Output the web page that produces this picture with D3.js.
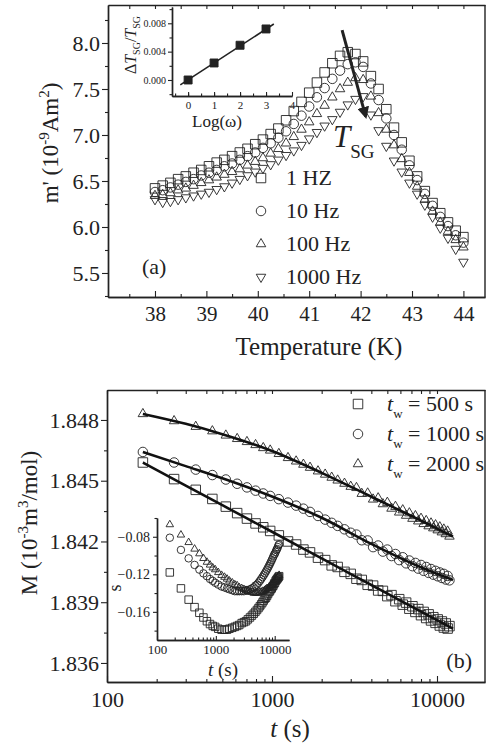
<!DOCTYPE html>
<html>
<head>
<meta charset="utf-8">
<script src="https://cdn.jsdelivr.net/npm/d3@7"></script>
<style>
  body { margin: 0; background: #fff; }
  text { font-family: "Liberation Serif", "Times New Roman", serif; fill: #222; }
</style>
</head>
<body>
<script>
// ---------- panel (a) : m' vs temperature ----------
const tempK = [38.00,38.15,38.30,38.45,38.60,38.75,38.90,39.05,39.20,39.35,39.50,39.65,39.80,39.95,40.10,40.25,40.40,40.55,40.70,40.85,
  41.00,41.15,41.30,41.45,41.60,41.75,41.90,42.05,42.20,42.35,42.50,42.65,42.80,42.95,43.10,43.25,43.40,43.55,43.70,43.85,44.00];
const m1Hz = [6.42,6.45,6.48,6.52,6.55,6.59,6.62,6.66,6.70,6.73,6.77,6.81,6.85,6.90,6.95,7.01,7.07,7.16,7.26,7.36,
  7.46,7.57,7.68,7.78,7.86,7.90,7.88,7.80,7.64,7.50,7.28,7.08,6.92,6.72,6.55,6.39,6.26,6.15,6.05,5.96,5.89];
const m10Hz = [6.38,6.40,6.43,6.46,6.49,6.52,6.56,6.59,6.62,6.66,6.69,6.73,6.77,6.81,6.86,6.91,6.97,7.04,7.12,7.21,
  7.31,7.41,7.51,7.61,7.70,7.77,7.79,7.74,7.56,7.38,7.18,7.00,6.84,6.67,6.51,6.36,6.23,6.11,6.01,5.91,5.83];
const m100Hz = [6.34,6.35,6.37,6.40,6.42,6.45,6.48,6.51,6.54,6.57,6.60,6.63,6.67,6.71,6.75,6.80,6.85,6.91,6.98,7.06,
  7.14,7.23,7.32,7.41,7.50,7.57,7.62,7.60,7.42,7.24,7.06,6.89,6.74,6.59,6.44,6.30,6.17,6.05,5.95,5.86,5.78];
const m1000Hz = [6.30,6.27,6.28,6.30,6.32,6.34,6.36,6.38,6.41,6.44,6.48,6.52,6.56,6.60,6.64,6.68,6.73,6.78,6.83,6.89,
  6.96,7.03,7.10,7.17,7.25,7.33,7.39,7.42,7.22,7.05,6.88,6.72,6.60,6.48,6.36,6.24,6.11,5.99,5.88,5.76,5.62];
const freqNames = ["1 HZ", "10 Hz", "100 Hz", "1000 Hz"];
const tempTicks = [38, 39, 40, 41, 42, 43, 44];
const mTicks = [5.5, 6.0, 6.5, 7.0, 7.5, 8.0];

// inset (a)
const logOmega = [0, 1, 2, 3];
const dTsg = [0.0000, 0.0024, 0.0049, 0.0072];
const fitLogOmega = [-0.3, 3.3];
const fitDTsg = [-0.0007, 0.0079];
const logTicks = [0, 1, 2, 3, 4];
const dTTicks = [0.000, 0.004, 0.008];

// arrow marking T_SG (start / end, data units)
const arrowT = [41.64, 42.10];
const arrowM = [8.14, 7.20];

// ---------- panel (b) : M vs t ----------
const timeS = [165,255,345,435,525,615,705,795,885,975,1100,1250,1400,1550,1700,1900,2100,2300,2500,2750,
  3000,3250,3500,3800,4100,4400,4700,5000,5300,5600,5900,6200,6500,6800,7100,7400,7700,8000,8300,8600,
  8900,9200,9500,9800,10100,10400,10700,11000,11300,11600,11900];
const M500 = [1.84590,1.84508,1.84455,1.84410,1.84372,1.84340,1.84313,1.84289,1.84270,1.84252,1.84230,1.84200,1.84185,1.84160,1.84146,1.84120,1.84108,1.84082,1.84074,1.84050,
  1.84040,1.84016,1.84010,1.83986,1.83982,1.83958,1.83956,1.83930,1.83935,1.83905,1.83915,1.83888,1.83898,1.83868,1.83880,1.83852,1.83866,1.83836,1.83852,1.83822,
  1.83840,1.83810,1.83826,1.83798,1.83815,1.83785,1.83805,1.83775,1.83795,1.83770,1.83782];
const M1000 = [1.84642,1.84590,1.84555,1.84528,1.84506,1.84485,1.84467,1.84451,1.84437,1.84425,1.84409,1.84392,1.84377,1.84362,1.84346,1.84326,1.84308,1.84292,1.84277,1.84260,
  1.84243,1.84234,1.84206,1.84205,1.84172,1.84180,1.84150,1.84160,1.84128,1.84138,1.84108,1.84122,1.84092,1.84106,1.84078,1.84094,1.84066,1.84084,1.84055,1.84074,
  1.84045,1.84064,1.84036,1.84055,1.84028,1.84047,1.84020,1.84040,1.84012,1.84030,1.84008];
const M2000 = [1.84830,1.84795,1.84767,1.84745,1.84724,1.84707,1.84692,1.84677,1.84662,1.84650,1.84633,1.84613,1.84596,1.84580,1.84565,1.84547,1.84531,1.84516,1.84502,1.84486,
  1.84471,1.84465,1.84436,1.84438,1.84408,1.84414,1.84385,1.84392,1.84363,1.84372,1.84344,1.84355,1.84328,1.84340,1.84313,1.84326,1.84300,1.84313,1.84287,1.84302,
  1.84276,1.84290,1.84266,1.84281,1.84256,1.84271,1.84246,1.84260,1.84237,1.84250,1.84225];
const fitTime = [165, 300, 500, 1000, 2000, 4000, 8000, 12500];
const fit500 = [1.84590, 1.84476, 1.84379, 1.84248, 1.84116, 1.83985, 1.83854, 1.83769];
const fit1000 = [1.84642, 1.84572, 1.84512, 1.84422, 1.84317, 1.84188, 1.84072, 1.84010];
const fit2000 = [1.84830, 1.84781, 1.84730, 1.84647, 1.84539, 1.84421, 1.84303, 1.84224];
const twNames = ["500 s", "1000 s", "2000 s"];
const MTicks = [1.836, 1.839, 1.842, 1.845, 1.848];
const timeTicks = [100, 1000, 10000];

// inset (b) : s vs t
const s500 = [-0.118,-0.135,-0.147,-0.155,-0.161,-0.166,-0.170,-0.173,-0.175,-0.176,-0.178,-0.179,-0.179,-0.179,-0.178,-0.177,-0.176,-0.175,-0.174,-0.172,
  -0.171,-0.170,-0.168,-0.166,-0.164,-0.162,-0.160,-0.158,-0.156,-0.154,-0.152,-0.150,-0.148,-0.146,-0.145,-0.143,-0.141,-0.139,-0.138,-0.136,
  -0.135,-0.133,-0.132,-0.130,-0.129,-0.127,-0.126,-0.125,-0.124,-0.123,-0.122];
const s1000 = [-0.081,-0.094,-0.103,-0.110,-0.115,-0.119,-0.122,-0.125,-0.127,-0.129,-0.131,-0.133,-0.134,-0.135,-0.136,-0.137,-0.138,-0.138,-0.138,-0.138,
  -0.138,-0.137,-0.137,-0.136,-0.135,-0.134,-0.132,-0.131,-0.129,-0.127,-0.125,-0.123,-0.121,-0.119,-0.117,-0.115,-0.113,-0.111,-0.109,-0.107,
  -0.105,-0.103,-0.101,-0.099,-0.098,-0.096,-0.094,-0.093,-0.091,-0.089,-0.088];
const s2000 = [-0.067,-0.078,-0.086,-0.093,-0.098,-0.103,-0.107,-0.110,-0.113,-0.115,-0.118,-0.121,-0.123,-0.125,-0.127,-0.129,-0.131,-0.132,-0.134,-0.135,
  -0.136,-0.137,-0.138,-0.139,-0.139,-0.140,-0.140,-0.140,-0.140,-0.139,-0.139,-0.138,-0.138,-0.137,-0.136,-0.135,-0.135,-0.134,-0.133,-0.132,
  -0.131,-0.130,-0.129,-0.128,-0.127,-0.126,-0.125,-0.124,-0.123,-0.122,-0.121];
const sTicks = [-0.16, -0.12, -0.08];
const insetTimeTicks = [100, 1000, 10000];

const ink = "#222";
const svg = d3.select("body").append("svg").attr("width", 487).attr("height", 745);

// marker shapes: square, circle, up-triangle, down-triangle
const shapes = [
  {type: d3.symbolSquare, rot: 0},
  {type: d3.symbolCircle, rot: 0},
  {type: d3.symbolTriangle, rot: 0},
  {type: d3.symbolTriangle, rot: 180}
];
function sizeFor(type, w) {
  // approximate symbol area for a given visual width
  if (type === d3.symbolSquare) return w * w;
  if (type === d3.symbolCircle) return Math.PI * w * w / 4;
  return w * w * 0.433;
}
function markers(g, xs, ys, sx, sy, shape, w, filled) {
  const sym = d3.symbol().type(shape.type).size(sizeFor(shape.type, w));
  g.append("g").selectAll("path").data(xs.map((x, i) => [x, ys[i]])).join("path")
    .attr("d", sym)
    .attr("transform", d => `translate(${sx(d[0])},${sy(d[1])}) rotate(${shape.rot})`)
    .attr("fill", filled ? ink : "none")
    .attr("stroke", ink)
    .attr("stroke-width", 0.9);
}
function styleAxis(g, fs) {
  g.select(".domain").attr("stroke", ink).attr("stroke-width", 1.4);
  g.selectAll(".tick line").attr("stroke", ink).attr("stroke-width", 1.1);
  g.selectAll(".tick text").attr("fill", ink).style("font-size", fs + "px")
    .style("font-family", '"Liberation Serif","Times New Roman",serif');
}

// ================= panel (a) =================
const xA = d3.scaleLinear().domain([37.086, 44.42]).range([108, 485]);
const yA = d3.scaleLinear().domain([5.239, 8.413]).range([297, 5]);
const gA = svg.append("g");

const tMinor = d3.range(37.5, 44.5, 1);
const mMinor = d3.range(5.25, 8.4, 0.5);

gA.append("g").attr("transform", "translate(0,297)")
  .call(d3.axisBottom(xA).tickValues(tMinor).tickSize(-3).tickSizeOuter(0).tickFormat(""))
  .call(g => styleAxis(g, 20));
gA.append("g").attr("transform", "translate(0,297)")
  .call(d3.axisBottom(xA).tickValues(tempTicks).tickSize(-6).tickSizeOuter(0).tickPadding(9).tickFormat(d3.format("d")))
  .call(g => styleAxis(g, 21));
gA.append("g").attr("transform", "translate(0,5)")
  .call(d3.axisTop(xA).tickValues(tempTicks.concat(tMinor)).tickSize(-4).tickSizeOuter(0).tickFormat(""))
  .call(g => styleAxis(g, 20));
gA.append("g").attr("transform", "translate(108,0)")
  .call(d3.axisLeft(yA).tickValues(mMinor).tickSize(3).tickSizeOuter(0).tickFormat(""))
  .call(g => styleAxis(g, 20));
gA.append("g").attr("transform", "translate(108,0)")
  .call(d3.axisLeft(yA).tickValues(mTicks).tickSize(6).tickSizeOuter(0).tickPadding(2).tickFormat(d3.format(".1f")))
  .call(g => styleAxis(g, 22));
gA.append("line").attr("x1", 485).attr("x2", 485).attr("y1", 5).attr("y2", 297)
  .attr("stroke", ink).attr("stroke-width", 1.4);

const seriesA = [m1Hz, m10Hz, m100Hz, m1000Hz];
seriesA.forEach((ys, i) => markers(gA, tempK, ys, xA, yA, shapes[i], 9.5, false));

// arrow
const defs = svg.append("defs");
defs.append("marker").attr("id", "head").attr("viewBox", "0 0 10 10")
  .attr("refX", 8).attr("refY", 5).attr("markerWidth", 4).attr("markerHeight", 4)
  .attr("orient", "auto")
  .append("path").attr("d", "M0,0 L10,5 L0,10 Z").attr("fill", ink);
gA.append("line")
  .attr("x1", xA(arrowT[0])).attr("y1", yA(arrowM[0]))
  .attr("x2", xA(arrowT[1])).attr("y2", yA(arrowM[1]))
  .attr("stroke", ink).attr("stroke-width", 3).attr("marker-end", "url(#head)");

// T_SG label
const tsg = gA.append("text").attr("x", 333).attr("y", 147).style("font-size", "31px");
tsg.append("tspan").style("font-style", "italic").text("T");
tsg.append("tspan").attr("dy", 11).style("font-size", "19px").text("SG");

// legend (a)
freqNames.forEach((name, i) => {
  const ly = 178 + i * 33;
  const sym = d3.symbol().type(shapes[i].type).size(sizeFor(shapes[i].type, 9.5));
  gA.append("path").attr("d", sym)
    .attr("transform", `translate(261,${ly}) rotate(${shapes[i].rot})`)
    .attr("fill", "none").attr("stroke", ink).attr("stroke-width", 0.9);
  gA.append("text").attr("x", 286).attr("y", ly + 7).style("font-size", "22px").text(name);
});
gA.append("text").attr("x", 142).attr("y", 274).style("font-size", "22px").text("(a)");

// axis titles (a)
gA.append("text").attr("x", 319).attr("y", 355).attr("text-anchor", "middle")
  .style("font-size", "25px").text("Temperature (K)");
const yTitleA = gA.append("text").attr("transform", "translate(58,143) rotate(-90)")
  .attr("text-anchor", "middle").style("font-size", "23px");
yTitleA.append("tspan").text("m' (10");
yTitleA.append("tspan").attr("dy", -9).style("font-size", "15px").text("-9");
yTitleA.append("tspan").attr("dy", 9).text("Am");
yTitleA.append("tspan").attr("dy", -9).style("font-size", "15px").text("2");
yTitleA.append("tspan").attr("dy", 9).text(")");

// ---- inset (a)
const xIa = d3.scaleLinear().domain([-0.62, 4]).range([172, 292]);
const yIa = d3.scaleLinear().domain([-0.00226, 0.0103]).range([96, 7]);
const gIa = svg.append("g");
gIa.append("g").attr("transform", "translate(0,96)")
  .call(d3.axisBottom(xIa).tickValues(d3.range(-0.5, 4, 0.5)).tickSize(-2.5).tickSizeOuter(0).tickFormat(""))
  .call(g => styleAxis(g, 11));
gIa.append("g").attr("transform", "translate(0,96)")
  .call(d3.axisBottom(xIa).tickValues(logTicks).tickSize(-4).tickSizeOuter(0).tickPadding(5).tickFormat(d3.format("d")))
  .call(g => styleAxis(g, 11));
gIa.append("g").attr("transform", "translate(172,0)")
  .call(d3.axisLeft(yIa).tickValues([-0.002, 0.002, 0.006, 0.010]).tickSize(2.5).tickSizeOuter(0).tickFormat(""))
  .call(g => styleAxis(g, 10));
gIa.append("g").attr("transform", "translate(172,0)")
  .call(d3.axisLeft(yIa).tickValues(dTTicks).tickSize(4).tickSizeOuter(0).tickPadding(2).tickFormat(d3.format(".3f")))
  .call(g => styleAxis(g, 10));
gIa.append("line")
  .attr("x1", xIa(fitLogOmega[0])).attr("y1", yIa(fitDTsg[0]))
  .attr("x2", xIa(fitLogOmega[1])).attr("y2", yIa(fitDTsg[1]))
  .attr("stroke", ink).attr("stroke-width", 1.6);
markers(gIa, logOmega, dTsg, xIa, yIa, shapes[0], 8, true);
gIa.append("text").attr("x", 217).attr("y", 127).attr("text-anchor", "middle")
  .style("font-size", "17px").text("Log(\u03c9)");
const yTitleIa = gIa.append("text").attr("transform", "translate(136,45) rotate(-90)")
  .attr("text-anchor", "middle").style("font-size", "16px");
yTitleIa.append("tspan").text("\u0394");
yTitleIa.append("tspan").style("font-style", "italic").text("T");
yTitleIa.append("tspan").attr("dy", 4).style("font-size", "10px").text("SG");
yTitleIa.append("tspan").attr("dy", -4).text("/");
yTitleIa.append("tspan").style("font-style", "italic").text("T");
yTitleIa.append("tspan").attr("dy", 4).style("font-size", "10px").text("SG");

// ================= panel (b) =================
const xB = d3.scaleLog().domain([100, 19540]).range([107, 485]);
const yB = d3.scaleLinear().domain([1.83506, 1.84948]).range([682, 390]);
const gB = svg.append("g");

const tMinorB = [200,300,400,500,600,700,800,900,2000,3000,4000,5000,6000,7000,8000,9000];
const MMinorB = [1.8375, 1.8405, 1.8435, 1.8465];

gB.append("g").attr("transform", "translate(0,682)")
  .call(d3.axisBottom(xB).tickValues(tMinorB).tickSize(-3).tickSizeOuter(0).tickFormat(""))
  .call(g => styleAxis(g, 20));
gB.append("g").attr("transform", "translate(0,682)")
  .call(d3.axisBottom(xB).tickValues(timeTicks).tickSize(-6).tickSizeOuter(0).tickPadding(9).tickFormat(d3.format("d")))
  .call(g => styleAxis(g, 22));
gB.append("g").attr("transform", "translate(0,390)")
  .call(d3.axisTop(xB).tickValues(timeTicks.concat(tMinorB)).tickSize(-4).tickSizeOuter(0).tickFormat(""))
  .call(g => styleAxis(g, 20));
gB.append("g").attr("transform", "translate(107,0)")
  .call(d3.axisLeft(yB).tickValues(MMinorB).tickSize(3).tickSizeOuter(0).tickFormat(""))
  .call(g => styleAxis(g, 20));
gB.append("g").attr("transform", "translate(107,0)")
  .call(d3.axisLeft(yB).tickValues(MTicks).tickSize(6).tickSizeOuter(0).tickPadding(2).tickFormat(d3.format(".3f")))
  .call(g => styleAxis(g, 22));
gB.append("line").attr("x1", 485).attr("x2", 485).attr("y1", 390).attr("y2", 682)
  .attr("stroke", ink).attr("stroke-width", 1.4);

const seriesB = [M500, M1000, M2000];
seriesB.forEach((ys, i) => markers(gB, timeS, ys, xB, yB, shapes[i], 9.5, false));
const fitLine = d3.line().x(d => xB(d[0])).y(d => yB(d[1])).curve(d3.curveMonotoneX);
[fit500, fit1000, fit2000].forEach(f => {
  gB.append("path").datum(fitTime.map((t, i) => [t, f[i]]))
    .attr("d", fitLine).attr("fill", "none").attr("stroke", "#111").attr("stroke-width", 2.6);
});

// legend (b)
twNames.forEach((name, i) => {
  const ly = 404 + i * 30;
  const sym = d3.symbol().type(shapes[i].type).size(sizeFor(shapes[i].type, 9.5));
  gB.append("path").attr("d", sym).attr("transform", `translate(358,${ly})`)
    .attr("fill", "none").attr("stroke", ink).attr("stroke-width", 0.9);
  const t = gB.append("text").attr("x", 387).attr("y", ly + 7).style("font-size", "22px");
  t.append("tspan").style("font-style", "italic").text("t");
  t.append("tspan").attr("dy", 7).style("font-size", "13px").text("w");
  t.append("tspan").attr("dy", -7).text(" = " + name);
});
gB.append("text").attr("x", 472).attr("y", 668).attr("text-anchor", "end")
  .style("font-size", "22px").text("(b)");

// axis titles (b)
const xTitleB = gB.append("text").attr("x", 290).attr("y", 737).attr("text-anchor", "middle")
  .style("font-size", "25px");
xTitleB.append("tspan").style("font-style", "italic").text("t");
xTitleB.append("tspan").text(" (s)");
const yTitleB = gB.append("text").attr("transform", "translate(37,523) rotate(-90)")
  .attr("text-anchor", "middle").style("font-size", "23px");
yTitleB.append("tspan").text("M (10");
yTitleB.append("tspan").attr("dy", -9).style("font-size", "15px").text("-3");
yTitleB.append("tspan").attr("dy", 9).text("m");
yTitleB.append("tspan").attr("dy", -9).style("font-size", "15px").text("3");
yTitleB.append("tspan").attr("dy", 9).text("/mol)");

// ---- inset (b)
const xIb = d3.scaleLog().domain([100, 17500]).range([157, 289]);
const yIb = d3.scaleLinear().domain([-0.19, -0.06]).range([640, 518]);
const gIb = svg.append("g");
const insetMinor = [200,300,400,500,600,700,800,900,2000,3000,4000,5000,6000,7000,8000,9000];
gIb.append("g").attr("transform", "translate(0,640)")
  .call(d3.axisBottom(xIb).tickValues(insetMinor).tickSize(-2.5).tickSizeOuter(0).tickFormat(""))
  .call(g => styleAxis(g, 12));
gIb.append("g").attr("transform", "translate(0,640)")
  .call(d3.axisBottom(xIb).tickValues(insetTimeTicks).tickSize(-4).tickSizeOuter(0).tickPadding(5).tickFormat(d3.format("d")))
  .call(g => styleAxis(g, 13));
gIb.append("g").attr("transform", "translate(157,0)")
  .call(d3.axisLeft(yIb).tickValues([-0.18, -0.14, -0.10, -0.06]).tickSize(2.5).tickSizeOuter(0).tickFormat(""))
  .call(g => styleAxis(g, 12));
gIb.append("g").attr("transform", "translate(157,0)")
  .call(d3.axisLeft(yIb).tickValues(sTicks).tickSize(4).tickSizeOuter(0).tickPadding(3).tickFormat(d3.format(".2f")))
  .call(g => styleAxis(g, 14));
[s500, s1000, s2000].forEach((ys, i) => markers(gIb, timeS, ys, xIb, yIb, shapes[i], 7.5, false));
const xTitleIb = gIb.append("text").attr("x", 223).attr("y", 676).attr("text-anchor", "middle")
  .style("font-size", "19px");
xTitleIb.append("tspan").style("font-style", "italic").text("t");
xTitleIb.append("tspan").text(" (s)");
gIb.append("text").attr("transform", "translate(121,588) rotate(-90)")
  .attr("text-anchor", "middle").style("font-size", "18px").text("s");
</script>
</body>
</html>
